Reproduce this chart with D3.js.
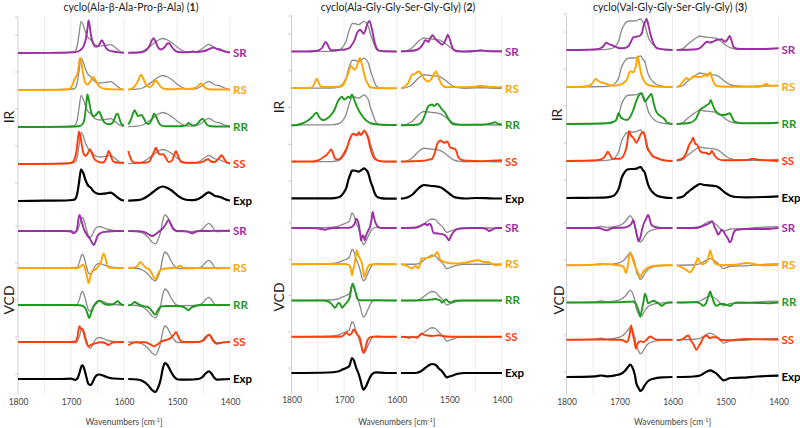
<!DOCTYPE html>
<html><head><meta charset="utf-8">
<script src="https://cdn.jsdelivr.net/npm/d3@7"></script>
<style>body{margin:0;background:#fff}svg{display:block}text{font-family:Lato,"Open Sans",sans-serif}</style>
</head><body><svg id="c" width="800" height="428"></svg>
<script>
// ---------- labels ----------
const rows = ["SR","RS","RR","SS","Exp"];
const wnTicks = [1800,1700,1600,1500,1400];
const wnGrid = [1800,1750,1700,1650,1600,1550,1500,1450,1400];
const titleText = ["cyclo(Ala-β-Ala-Pro-β-Ala)","cyclo(Ala-Gly-Gly-Ser-Gly-Gly)","cyclo(Val-Gly-Gly-Ser-Gly-Gly)"];
const titleNum = ["1","2","3"];
const xLabel = "Wavenumbers [cm";

// ---------- data: flat [wavenumber, intensity, ...] ----------
// Panel 1 IR
const ir1_Exp=[1800,0,1750,0.3,1710,0.5,1697,1,1692,2,1688,8,1685,18,1681,31.7,1677,28,1672,20,1667,15,1663,13.5,1658,10,1651,7.5,1645,7,1638,7.3,1630,8,1625,8.3,1620,7,1612,3.5,1605,1,1600,0.5,
1592,0.3,1575,0.8,1565,2,1555,5,1545,9,1535,13,1527,14.5,1520,13.5,1510,10.5,1500,6,1490,2.5,1480,1,1470,0.8,1460,2,1452,4.5,1445,7.5,1440,8.7,1434,7,1428,5,1420,4.3,1412,2.5,1405,1,1400,0.5];
const ir1_SR=[1800,0,1720,0.2,1695,0.6,1685,2,1680,4,1676,7,1672,14,1669,24,1667,32.5,1665,28,1662,17,1658,9,1654,6.5,1650,6.5,1646,9,1642,12.7,1638,9.5,1634,5,1628,2.5,1620,1.5,1610,0.6,1600,0.3,
1592,0.2,1570,0.5,1560,2,1552,7,1547,13,1544,14.8,1540,11,1535,5,1530,3.5,1524,5.5,1518,9.5,1515,9.8,1511,7,1505,3,1498,1,1485,0.6,1475,1,1470,1.5,1462,0.8,1455,1.5,1445,2.5,1437,4.5,1431,5.5,1425,4,1418,3,1410,1.5,1400,0.5];
const ir1_RS=[1800,0,1720,0.3,1705,0.8,1698,4,1694,10,1691,13,1688,16,1685,26,1683,32,1680,26,1677,16,1673,7,1669,5.5,1663,9,1658,13,1654,10,1649,5,1644,2.5,1635,1.2,1620,0.6,1600,0.5,
1592,0.5,1585,1.5,1578,5,1572,11,1568,15.3,1564,12,1558,5,1552,3,1546,5,1541,9.5,1537,8,1532,4,1526,1.5,1515,0.8,1500,1,1490,1.5,1480,1,1470,1.5,1462,3,1457,6,1454,6.5,1450,4,1445,1.5,1435,0.5,1400,0.5];
const ir1_RR=[1800,0,1700,0.3,1685,0.8,1678,3,1674,10,1671,24,1669,32.5,1666,26,1662,15,1658,11,1653,12,1650,14,1647,15.3,1643,11,1639,6,1634,3.5,1628,2.7,1622,4,1618,8,1614,13,1612,13.3,1609,9,1605,3,1600,1.5,
1592,2.7,1588,6,1584,12,1580,16.7,1576,13,1574,11,1570,11.5,1567,12,1562,8,1557,3.5,1553,3,1548,7,1543,13.3,1539,10,1534,4,1530,1.7,1520,0.8,1500,0.8,1488,1,1482,2,1478,4,1474,2.5,1468,1.5,1462,3,1457,6,1452,8.3,1448,6,1443,2,1435,0.8,1420,0.5,1400,0.5];
const ir1_SS=[1800,0,1710,0.5,1700,1,1694,4,1690,12,1687,25,1685,32.3,1682,27,1679,17,1675,9,1672,8,1668,11,1664,14.7,1660,10,1656,5,1651,3,1645,1.7,1640,1.5,1635,4,1631,10,1629,13,1626,10,1621,3,1615,1.5,1600,1.2,
1592,13,1589,8,1585,3,1580,1.3,1560,1.3,1552,2.5,1547,8,1542,14,1540,16.3,1536,12,1534,10,1530,9.5,1526,9.7,1521,6,1516,2,1510,3,1506,8,1502,13,1498,8,1492,2,1485,1.3,1460,1.3,1450,2.5,1444,4.5,1441,4.7,1436,2.5,1430,2,1424,4,1419,7,1416,8.7,1412,6,1406,1.5,1400,0.8];
// Panel 1 VCD
const vcd1_Exp=[1800,0,1720,0,1700,0.3,1692,-0.8,1688,0.5,1684,6,1680,13,1678,13.7,1675,10,1671,2,1667,-5,1663,-6,1659,-3,1655,1.5,1650,4.2,1646,4.5,1640,3.5,1630,1.5,1620,0.5,1600,0,
1592,0,1575,-0.5,1565,-2,1555,-6,1547,-11,1541,-13,1536,-9,1531,-1,1527,10,1523,16,1518,14,1512,8,1505,2,1498,-0.5,1490,-0.7,1470,-0.5,1460,0,1452,2,1446,5.5,1440,7.7,1435,5.5,1430,1.5,1425,-0.7,1415,-0.3,1400,0];
const vcd1_SR=[1800,0,1710,0,1700,-0.5,1695,-2.3,1691,-1,1688,4,1686,12,1684,16,1681,12,1677,4,1674,0,1670,-4,1664,-8,1660,-12,1657,-14,1654,-11,1650,-5,1645,-2.3,1638,-1,1630,-0.5,1615,0,1600,0,
1592,0,1570,-0.3,1560,-1.5,1553,-3.5,1547,-5,1541,-3.5,1535,-1,1528,2,1522,6,1516,11,1512,7,1507,2,1500,0,1490,0,1480,-0.5,1474,-2,1471,-2.3,1466,-1,1457,0,1440,0,1420,0.3,1400,0.3];
const vcd1_RS=[1800,0,1700,0,1685,0.5,1680,2.5,1677,3.3,1674,0,1671,-6,1668,-13,1667,-15,1664,-10,1660,-3,1654,-1.5,1648,2,1643,7,1640,13,1638,14.3,1635,10,1632,3,1628,0.3,1600,0,
1592,0,1580,0.5,1574,2.5,1569,6,1565,4,1559,0.5,1552,-1.5,1547,-6,1543,-10,1540,-11,1536,-6,1531,-2,1525,-0.8,1510,0,1500,0.5,1494,2.3,1490,0.5,1480,0,1400,0];
const vcd1_RR=[1800,0,1690,0,1680,-0.5,1673,-3,1668,-10,1666,-13,1662,-8,1658,-2,1652,2,1647,4.3,1642,3,1638,1.3,1630,0.2,1622,0.5,1617,2,1612,3.7,1608,2,1602,0,1600,0,
1592,-0.5,1586,0.5,1580,3,1575,1.5,1568,-0.5,1560,-1.5,1552,-3,1546,-7,1541,-9.7,1537,-6,1530,-1.5,1520,-1,1500,-1,1490,-1.5,1483,-3.5,1478,-5.3,1474,-3,1465,-1,1455,0,1400,0];
const vcd1_SS=[1800,0,1700,0,1692,0.5,1688,5,1685,14,1684,15.7,1681,13,1678,12,1674,5,1670,-2,1667,-4.3,1663,-3,1655,-1.5,1645,-0.3,1635,-1,1630,-3,1626,-2,1620,-0.3,1600,0,
1592,-3.3,1586,-1.5,1580,-0.3,1560,-0.3,1550,-2.5,1543,-4.3,1537,-2.5,1530,0.5,1520,2,1512,4,1505,8,1502,10,1498,6,1492,0.5,1485,0,1460,0,1450,1.5,1443,6,1439,7.3,1435,4,1430,0,1425,-1.7,1418,-1,1405,0,1400,0];
// Panel 2 IR
const ir2_Exp=[1800,0.7,1760,0.7,1724,0.7,1712,1.5,1705,3.5,1700,7,1696,11,1692,19,1688,25,1685,28.3,1680,28.5,1673,27.3,1667,29,1662,30.7,1658,29,1654,25.7,1650,18,1646,12.3,1642,6,1638,2.3,1630,0.8,1620,0.3,1600,0.3,
1592,0.3,1580,1.5,1570,4.5,1560,10,1553,13,1549,14,1540,13.5,1533,13,1525,12.7,1517,11.7,1510,9.5,1505,7.3,1498,4.5,1492,2.3,1480,0.8,1470,0.5,1450,1,1430,0.8,1415,0.5,1400,0.5];
const ir2_SR=[1800,0.5,1770,0.5,1755,1,1749,1.7,1742,4,1738,8,1735,10,1732,8,1728,3.5,1724,1.7,1710,2,1698,2.5,1690,4,1686,6.7,1680,12,1676,18.3,1673,21,1670,22.3,1667,21,1663,18.3,1660,21,1656,28,1652,31,1649,27,1646,20,1643,11.7,1640,6,1635,1.7,1620,0.7,1600,0.5,
1592,0.7,1575,1,1563,2,1556,4,1550,8,1546,11.7,1542,11,1540,10,1536,14,1532,16.7,1528,14,1523,11,1520,10,1514,7.3,1509,10,1505,15,1503,17.3,1500,14,1496,7,1492,2.3,1485,0.7,1470,0.5,1450,1,1440,1.7,1430,1,1410,0.7,1400,0.7];
const ir2_RS=[1800,0.7,1770,0.7,1760,2,1755,7,1752,10,1749,7,1744,2,1735,1.7,1715,1.7,1705,2.5,1698,7.3,1694,13,1690,19,1688,23,1684,21,1680,19,1676,22,1673,27,1670,30.7,1667,26,1663,17,1660,10.7,1655,5,1651,1.7,1640,0.8,1600,0.5,
1592,0.7,1584,2.5,1578,6,1571,14,1565,15,1560,17,1557,17.3,1552,13,1546,9,1540,7.3,1534,10,1529,15,1525,17.3,1521,12,1514,4,1505,1.5,1495,1.7,1470,1.5,1450,2,1440,3,1430,2,1410,1.5,1400,1.5];
const ir2_RR=[1800,0,1790,0.5,1780,2,1768,5.3,1760,9,1755,12,1752,12.7,1748,9,1743,6,1738,5.5,1730,8,1724,11,1718,16,1712,24,1708,27,1704,28.7,1700,26,1696,27,1692,28.7,1689,27.5,1685,31,1681,26,1676,19.3,1671,14,1666,10,1660,6,1656,4.3,1648,2,1635,1,1600,0.5,
1592,0.3,1570,0.5,1559,1,1552,4,1546,11,1540,19.3,1533,21,1529,19.5,1523,21.7,1518,19,1514,16,1508,12.7,1503,7.7,1497,3,1490,1,1470,0.8,1440,0.8,1425,1.5,1418,2.5,1413,3.3,1407,1.5,1400,1];
const ir2_SS=[1800,0.7,1760,0.7,1752,1.5,1745,3,1740,5,1734,7,1729,10,1725,12.7,1721,9,1717,3.5,1710,2.7,1704,6,1698,11,1693,17,1689,23.3,1683,28.3,1680,28,1676,26.7,1672,30,1668,27.3,1665,29,1662,31.7,1658,29,1654,23.3,1651,16,1648,10,1643,4,1635,1.7,1620,0.7,1600,0.7,
1592,0.7,1570,1,1550,1.5,1540,2.5,1533,3.3,1528,9,1523,18.3,1517,21.7,1512,20,1508,19.5,1505,20.7,1501,18,1499,15,1494,14,1489,13.3,1486,10,1483,5,1475,2,1465,1.5,1440,1,1420,1.5,1400,2];
// Panel 2 VCD
const vcd2_Exp=[1800,0,1730,0.5,1712,1.5,1704,3.3,1696,5,1690,7,1685,15,1681,12,1677,5,1673,0,1669,-7,1666,-13.3,1663,-16.7,1659,-14,1654,-8,1648,-1.7,1640,0.7,1620,0,1600,0,
1592,0,1565,0,1555,1.5,1546,5,1538,8,1533,9,1526,8,1520,4.5,1514,1.7,1509,-2,1505,-4.3,1500,-3.5,1495,-2.7,1485,-0.8,1470,0,1400,0];
const vcd2_SR=[1800,0,1760,0,1745,-0.8,1737,-1.7,1728,-0.5,1718,0,1690,0.3,1684,1.5,1680,4.3,1677,9.3,1674,7,1672,3,1669,-8,1668,-12.3,1666,-9,1664,-7.3,1662,-10,1661,-12.3,1658,-7,1654,-2.5,1651,1,1648,8,1646,16,1643,10,1641,6,1636,1.5,1630,0,1600,0,
1592,0,1570,0.3,1560,1,1553,2.7,1546,4.3,1542,2.7,1538,4.3,1535,3,1530,-5,1525,-5.3,1520,-5.7,1512,-6.3,1508,-7.5,1504,-10,1501,-12.3,1497,-8,1492,-4,1483,-0.7,1460,0,1440,0,1430,-1,1424,-3,1418,-1.5,1410,0,1400,0];
const vcd2_RS=[1800,0,1700,0.3,1695,0,1690,-1,1687,-6,1685,-11,1683,-6,1680,0.5,1678,8,1676,14,1673,9,1670,5.7,1666,0.5,1664,-6,1662,-12.7,1659,-9,1656,-4,1651,-0.5,1640,0,1600,0,
1592,0,1584,-1,1578,-2.5,1571,-4.3,1565,-2,1562,-2.3,1559,-4.3,1556,0,1553,5.7,1546,6,1540,6.7,1533,8,1527,9.5,1523,12.3,1519,7,1517,4,1510,2.5,1500,1,1483,0.7,1470,1.5,1458,3,1445,4,1436,2.5,1425,2,1412,-1,1405,-0.5,1400,0];
const vcd2_RR=[1800,0,1740,0,1730,-1,1724,-3.3,1720,-6,1718,-7.3,1714,-5,1711,-2.5,1708,-3,1706,-5,1704,-7.3,1700,-5,1695,-2,1692,0,1689,4,1687,10,1684,16.7,1681,14,1678,8,1675,2,1670,0.3,1600,0,
1592,0,1550,0.3,1538,0.8,1530,1.2,1527,1.7,1522,0.8,1517,0,1514,-2.3,1510,0,1506,1,1501,-1.5,1496,-1.7,1490,-0.3,1480,0,1400,0];
const vcd2_SS=[1800,0,1720,0,1705,0.3,1700,2,1697,4.3,1693,3,1690,1.7,1685,4,1682,7.3,1678,5,1675,2,1671,0,1668,-6,1665,-14,1663,-16,1660,-12,1656,-4,1652,-1,1646,0,1600,0,
1592,0,1580,-0.5,1575,-1,1571,0,1566,-0.5,1562,-1,1558,0.5,1553,3.3,1549,2,1545,1.5,1533,0.7,1520,1.5,1510,0.5,1495,0,1400,0];
// Panel 3 IR
const ir3_Exp=[1800,0,1760,0.2,1724,0.7,1712,2,1706,5,1701,10,1696,20,1690,26,1686,28.3,1680,29,1674,29,1668,29.3,1664,30.5,1660,31,1656,28,1652,25,1649,19,1646,13.3,1641,8,1636,5,1628,2,1617,0.7,1600,0,
1592,0,1580,1.5,1573,5,1567,7.5,1561,10,1554,12.5,1548,14,1540,13,1533,12.7,1525,12.3,1517,11.7,1510,9.5,1504,6.7,1497,4,1491,2.3,1480,1,1460,0.7,1429,1,1400,1.7];
const ir3_SR=[1800,0,1760,0.3,1743,0.7,1735,2,1730,4,1725,7.3,1720,6,1715,5,1708,3.3,1699,1.7,1690,2,1683,4,1680,6.7,1676,11,1674,12.7,1668,13.3,1663,14,1660,15,1657,18,1655,23.3,1651,29,1649,31,1646,26,1642,16.7,1636,6.7,1629,1.7,1615,0.5,1600,0,
1592,0,1555,0.7,1548,2,1542,5,1535,8.3,1530,7.5,1525,8,1517,10,1510,10.5,1507,10.7,1502,8.3,1497,10,1492,14,1489,10,1485,3.3,1478,1.3,1460,1,1429,1,1400,1.7];
const ir3_RS=[1800,0,1770,0.3,1756,1.5,1750,4.7,1745,8,1740,6,1734,4.5,1731,4,1724,3,1712,1.3,1699,2.3,1690,5,1686,7.3,1680,15.7,1676,15,1674,14.5,1671,18,1669,20.7,1666,30.7,1663,24,1660,15,1655,7.3,1648,2.5,1642,1.5,1630,0.5,1600,0,
1592,0,1585,2,1580,5.7,1573,9,1569,7.5,1563,9.5,1561,10.7,1555,10.5,1548,10,1542,11,1538,12.3,1535,10.5,1529,14.7,1526,10,1523,5.7,1517,1.3,1500,0.3,1440,0.3,1428,1.5,1423,3.3,1418,1.5,1410,1.3,1400,1.3];
const ir3_RR=[1800,0,1724,0.7,1712,2,1706,4,1702,10.7,1697,6.5,1693,5,1686,4,1680,7,1674,14,1669,22,1665,27.3,1661,30,1658,30.7,1655,26,1652,22.5,1649,24,1645,27,1640,30,1636,22,1632,14,1627,9.7,1621,7.3,1615,5,1610,1.3,1600,0,
1592,0,1567,1.3,1556,5,1548,14,1542,16.5,1535,19,1530,21,1528,24,1524,19,1520,14,1512,9.7,1504,9,1498,9.5,1492,10.7,1487,6,1483,2.3,1470,0.8,1430,0.8,1400,1.3];
const ir3_SS=[1800,0,1743,0.7,1730,3,1726,6,1722,9.3,1717,5,1712,2,1708,2.3,1699,2.3,1690,8,1686,16,1682,30,1679,26,1674,23.3,1668,18.3,1664,22,1658,28.3,1655,29,1651,22,1648,13.3,1642,8.3,1636,4,1630,3.3,1617,0.7,1600,0,
1592,0.7,1580,3.3,1575,7,1568,16.7,1564,20,1561,23.3,1557,17,1554,16.7,1548,10,1542,8.3,1536,8.3,1532,6.7,1529,7.5,1526,10,1520,5,1514,2,1504,0.7,1460,1,1448,2.3,1440,1.3,1400,0];
// Panel 3 VCD
const vcd3_Exp=[1800,0,1745,0.7,1735,1.5,1724,0.7,1708,1.7,1696,3.5,1690,6,1684,10,1680,12.3,1676,10,1671,2,1668,-6.7,1664,-11,1661,-14,1657,-12.5,1652,-8,1646,-4,1636,-1.7,1620,-0.3,1600,0,
1592,0,1560,0.5,1548,1.5,1542,3.3,1535,5.5,1529,6.7,1522,5,1517,3.3,1510,-0.5,1504,-3.3,1498,-2.5,1491,-1,1470,-0.7,1440,0.5,1400,1.3];
const vcd3_SR=[1800,0,1740,0,1730,-1.5,1724,-2.3,1718,-1,1712,0,1690,0.5,1684,1.5,1678,4,1674,7.7,1671,2,1668,-5,1666,-10,1664,-13.3,1661,-10,1658,-3,1655,3.3,1649,10,1646,13.3,1643,9,1640,3.3,1633,1,1620,0,1600,0,
1592,0,1555,0,1545,1.5,1536,3.3,1530,5,1525,6.7,1521,1.5,1517,-3,1514,-6.7,1510,-4,1507,-1.7,1504,-3,1500,-7,1495,-11,1492,-14.3,1488,-11,1485,-5,1479,-1.7,1460,-1,1429,-1,1410,-0.5,1400,0];
const vcd3_RS=[1800,0,1760,0.3,1740,0.7,1724,1.3,1712,0.5,1699,0,1692,-2,1688,-7.7,1685,-3,1682,8,1680,13,1677,9,1674,4,1670,-2,1666,-6.5,1661,-11.7,1657,-8,1652,-4.5,1645,-2,1635,-0.8,1620,0,1600,0,
1592,0,1585,-1.5,1578,-3.3,1571,-6,1567,-7,1561,-3,1558,0,1554,5,1552,7.3,1548,3,1544,1,1539,2,1535,4,1531,11,1529,15,1526,10,1522,4,1517,1,1504,0,1480,0.5,1460,2.3,1450,1.5,1429,0,1400,0.5];
const vcd3_RR=[1800,0,1700,0.3,1680,0.8,1674,1,1668,-2.3,1664,-8,1661,-14,1658,-8,1655,0,1652,8.7,1649,5,1646,-0.7,1641,0.5,1636,1.7,1630,0.3,1625,-1.5,1620,-3.3,1615,-1.5,1608,0,1600,0,
1592,0,1555,0.3,1548,-1,1542,-3.3,1537,-1,1533,5,1529,11,1525,5,1521,-1,1517,-3.3,1510,-1.5,1504,-1.5,1497,-2.5,1491,-3.3,1485,-1,1479,0,1430,-0.5,1420,-0.7,1400,0];
const vcd3_SS=[1800,0,1740,0.3,1712,0,1699,0,1690,-1.5,1686,-2.3,1681,5,1678,14.3,1675,6,1672,-1,1669,-9,1666,-4,1661,-1.5,1655,-2.3,1649,0,1642,3.3,1636,1.5,1630,0,1600,0,
1592,-0.7,1580,1,1575,3,1570,4.3,1566,0,1560,-5,1555,-10,1550,-6,1546,-2.5,1542,2,1535,4.3,1530,1.5,1525,2.5,1517,2.5,1510,0,1500,-0.5,1460,0.8,1440,0.5,1400,0];

const irSets = [
  {SR:ir1_SR,RS:ir1_RS,RR:ir1_RR,SS:ir1_SS,Exp:ir1_Exp},
  {SR:ir2_SR,RS:ir2_RS,RR:ir2_RR,SS:ir2_SS,Exp:ir2_Exp},
  {SR:ir3_SR,RS:ir3_RS,RR:ir3_RR,SS:ir3_SS,Exp:ir3_Exp}];
const vcdSets = [
  {SR:vcd1_SR,RS:vcd1_RS,RR:vcd1_RR,SS:vcd1_SS,Exp:vcd1_Exp},
  {SR:vcd2_SR,RS:vcd2_RS,RR:vcd2_RR,SS:vcd2_SS,Exp:vcd2_Exp},
  {SR:vcd3_SR,RS:vcd3_RS,RR:vcd3_RR,SS:vcd3_SS,Exp:vcd3_Exp}];

// ---------- layout / style ----------
const colors = {SR:"#9c2fa3",RS:"#ffa500",RR:"#1f9a1f",SS:"#ff3d0a",Exp:"#000"};
const layout = [
  {x0:18,   x1:230,   ir:[53,201], vcd:[231,379], top:17, bottom:395, title:131, irLab:[9,117], vcdLab:[9,300]},
  {x0:291.5,x1:502,   ir:[52,199], vcd:[228,373], top:15, bottom:393, title:398, irLab:[279,107],vcdLab:[279,297]},
  {x0:566.5,x1:778.5, ir:[50,198], vcd:[228,377], top:15, bottom:395, title:670, irLab:[557,115],vcdLab:[559,300]}];

const svg = d3.select("#c");
const BREAK = 1596;
function toPts(flat){const p=[];for(let i=0;i<flat.length;i+=2)p.push([flat[i],flat[i+1]]);return p;}

layout.forEach((L,pi)=>{
  const g = svg.append("g");
  const x = d3.scaleLinear().domain([1800,1400]).range([L.x0,L.x1]);
  g.selectAll(".grid").data(wnGrid).join("line")
    .attr("x1",d=>x(d)).attr("x2",d=>x(d)).attr("y1",L.top).attr("y2",L.bottom)
    .attr("stroke",d=>d===1800?"#cfcfcf":"#ededed").attr("stroke-width",1);
  const irRow = d3.scalePoint().domain(rows).range(L.ir);
  const vcdRow = d3.scalePoint().domain(rows).range(L.vcd);
  const tickYs = [L.ir[0]-36].concat(rows.map(r=>irRow(r)-18)).concat(rows.map(r=>vcdRow(r)-5));
  g.selectAll(".yt").data(tickYs).join("line")
    .attr("x1",L.x0-3).attr("x2",L.x0).attr("y1",d=>d).attr("y2",d=>d)
    .attr("stroke","#c8c8c8");
  const ax = g.append("g").attr("transform",`translate(0,${L.bottom})`)
    .call(d3.axisBottom(x).tickValues(wnTicks).tickSize(0).tickPadding(4).tickFormat(d3.format("d")));
  ax.select(".domain").remove();
  ax.selectAll("text").attr("font-size",8.5).attr("fill","#444").attr("font-family","Lato,'Open Sans',sans-serif");
  const xl = g.append("text").attr("x",(L.x0+L.x1)/2).attr("y",425).attr("text-anchor","middle")
    .attr("font-size",8.5).attr("fill","#444");
  xl.append("tspan").text(xLabel);
  xl.append("tspan").text("-1").attr("font-size",5.5).attr("dy",-3);
  xl.append("tspan").text("]").attr("dy",3);
  const t = g.append("text").attr("x",L.title).attr("y",11).attr("text-anchor","middle")
    .attr("font-size",10.5).attr("fill","#222").attr("font-family","Lato,'Noto Sans',sans-serif");
  t.append("tspan").text(titleText[pi]+" (");
  t.append("tspan").text(titleNum[pi]).attr("font-weight","bold");
  t.append("tspan").text(")");
  g.append("text").attr("transform",`translate(${L.irLab[0]+5},${L.irLab[1]}) rotate(-90)`).attr("text-anchor","middle")
    .attr("font-size",14).attr("fill","#222").text("IR");
  g.append("text").attr("transform",`translate(${L.vcdLab[0]+5},${L.vcdLab[1]}) rotate(-90)`).attr("text-anchor","middle")
    .attr("font-size",14).attr("fill","#222").text("VCD");

  const yIR = d3.scaleLinear().domain([0,35]).range([0,-35]);
  const yVCD = d3.scaleLinear().domain([-20,20]).range([20,-20]);
  [[irSets[pi],irRow,yIR],[vcdSets[pi],vcdRow,yVCD]].forEach(([set,rowS,yS])=>{
    rows.forEach(r=>{
      const base = rowS(r);
      const line = d3.line().x(d=>x(d[0])).y(d=>base+yS(d[1])).curve(d3.curveMonotoneX);
      const draw = (flat,color,w)=>{
        const pts = toPts(flat);
        [pts.filter(p=>p[0]>BREAK), pts.filter(p=>p[0]<BREAK)].forEach(seg=>{
          g.append("path").attr("d",line(seg)).attr("fill","none").attr("stroke",color)
            .attr("stroke-width",w).attr("stroke-linejoin","round");
        });
      };
      if(r!=="Exp"){ draw(set.Exp,"#8a8a8a",1.3); draw(set[r],colors[r],1.9); }
      else draw(set.Exp,"#000",2.2);
      g.append("text").attr("x",L.x1+3).attr("y",base+1).attr("dominant-baseline","middle")
        .attr("font-size",11.5).attr("font-weight","bold").attr("fill",colors[r]).text(r);
    });
  });
});
</script></body></html>
